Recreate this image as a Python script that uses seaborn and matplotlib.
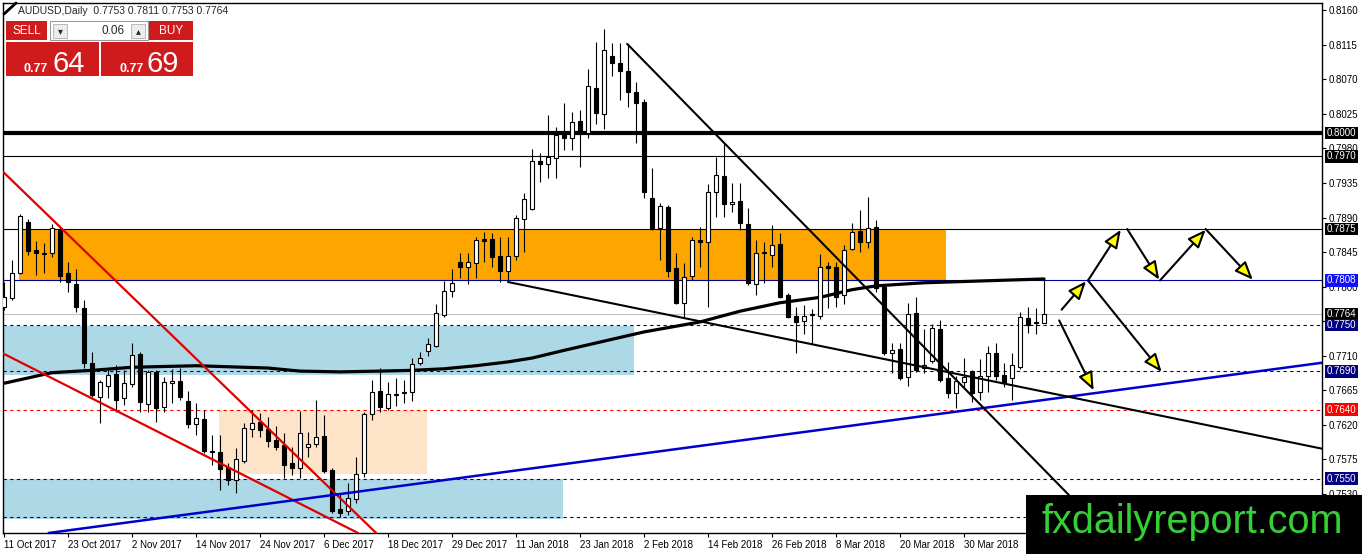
import numpy as np
import pandas as pd
import matplotlib
matplotlib.use("Agg")
import matplotlib.pyplot as plt
import matplotlib.transforms as mtransforms
from matplotlib.patches import Rectangle
import seaborn as sns

sns.set_style("white")
plt.rcParams["font.family"] = ["Liberation Sans", "DejaVu Sans"]

# AUDUSD daily candles, bar 0 = 11 Oct 2017
opens = [.7773, .7785, .7818, .7884, .7848, .7844, .7844, .7875, .7818, .7803,
         .7772, .7700, .7656, .7671, .7686, .7655, .7673, .7712, .7647, .7689,
         .7643, .7674, .7677, .7651, .7621, .7628, .7585, .7585, .7565, .7548,
         .7573, .7615, .7624, .7615, .7600, .7594, .7570, .7564, .7591, .7595,
         .7605, .7561, .7510, .7508, .7523, .7557, .7634, .7664, .7642, .7659,
         .7661, .7663, .7700, .7716, .7723, .7763, .7794, .7832, .7826, .7831,
         .7862, .7862, .7840, .7820, .7840, .7888, .7901, .7964, .7960, .7967,
         .7997, .7993, .8016, .8000, .8059, .8025, .8100, .8091, .8081, .8053,
         .8040, .7915, .7876, .7904, .7824, .7779, .7814, .7861, .7858, .7923,
         .7944, .7908, .7911, .7882, .7803, .7845, .7841, .7855, .7789, .7762,
         .7755, .7763, .7762, .7827, .7826, .7789, .7849, .7872, .7858, .7878,
         .7800, .7713, .7719, .7682, .7766, .7694, .7703, .7745, .7681, .7661,
         .7676, .7690, .7663, .7684, .7713, .7685, .7681, .7695, .7759, .7754,
         .7753]
highs = [.7806, .7835, .7895, .7888, .7859, .7857, .7882, .7877, .7832, .7823,
         .7783, .7715, .7678, .7694, .7698, .7691, .7727, .7715, .7691, .7691,
         .7682, .7693, .7694, .7664, .7648, .7639, .7607, .7607, .7570, .7590,
         .7622, .7639, .7635, .7630, .7618, .7609, .7591, .7638, .7611, .7652,
         .7633, .7564, .7531, .7544, .7578, .7637, .7678, .7694, .7676, .7681,
         .7678, .7707, .7715, .7733, .7777, .7807, .7823, .7844, .7844, .7865,
         .7871, .7870, .7865, .7865, .7893, .7922, .7979, .7974, .8023, .8008,
         .8039, .8027, .8030, .8083, .8118, .8135, .8117, .8117, .8116, .8066,
         .8044, .7954, .7909, .7906, .7844, .7831, .7865, .7878, .7934, .7969,
         .7987, .7935, .7935, .7902, .7861, .7858, .7880, .7870, .7792, .7773,
         .7776, .7771, .7842, .7832, .7832, .7854, .7883, .7900, .7917, .7887,
         .7801, .7727, .7727, .7779, .7786, .7745, .7751, .7756, .7702, .7684,
         .7707, .7691, .7706, .7723, .7727, .7700, .7713, .7767, .7773, .7772,
         .7811]
lows = [.7770, .7783, .7816, .7841, .7815, .7818, .7839, .7806, .7793, .7767,
        .7694, .7656, .7622, .7655, .7637, .7646, .7669, .7637, .7637, .7624,
        .7637, .7648, .7652, .7616, .7607, .7583, .7568, .7535, .7542, .7531,
        .7570, .7604, .7604, .7591, .7587, .7551, .7555, .7551, .7578, .7591,
        .7557, .7505, .7500, .7503, .7518, .7552, .7626, .7637, .7639, .7645,
        .7648, .7651, .7698, .7710, .7721, .7760, .7786, .7811, .7803, .7811,
        .7832, .7826, .7806, .7806, .7835, .7845, .7900, .7936, .7941, .7941,
        .7978, .7978, .7956, .7993, .8012, .8005, .8074, .8043, .8034, .7987,
        .7915, .7874, .7835, .7812, .7777, .7760, .7809, .7826, .7773, .7891,
        .7891, .7897, .7874, .7802, .7789, .7805, .7826, .7785, .7759, .7713,
        .7738, .7725, .7758, .7772, .7773, .7777, .7848, .7845, .7850, .7793,
        .7711, .7688, .7678, .7671, .7689, .7688, .7700, .7676, .7655, .7642,
        .7669, .7650, .7652, .7663, .7678, .7669, .7652, .7693, .7740, .7738,
        .7753]
closes = [.7786, .7818, .7892, .7846, .7844, .7842, .7876, .7814, .7806, .7773,
          .7700, .7659, .7676, .7685, .7652, .7674, .7711, .7650, .7689, .7642,
          .7676, .7677, .7656, .7621, .7629, .7586, .7586, .7562, .7548, .7575,
          .7616, .7622, .7613, .7599, .7591, .7568, .7564, .7609, .7595, .7604,
          .7560, .7508, .7505, .7525, .7556, .7634, .7663, .7643, .7660, .7660,
          .7663, .7699, .7707, .7725, .7766, .7794, .7805, .7826, .7832, .7861,
          .7859, .7839, .7820, .7840, .7889, .7914, .7964, .7960, .7969, .7997,
          .7993, .8014, .8000, .8061, .8026, .8108, .8091, .8081, .8053, .8039,
          .7923, .7876, .7905, .7820, .7779, .7812, .7861, .7858, .7923, .7945,
          .7908, .7910, .7883, .7805, .7844, .7844, .7854, .7786, .7760, .7754,
          .7762, .7764, .7826, .7824, .7786, .7848, .7871, .7858, .7876, .7798,
          .7713, .7717, .7681, .7764, .7691, .7698, .7746, .7678, .7661, .7677,
          .7682, .7661, .7684, .7713, .7684, .7676, .7698, .7760, .7750, .7753,
          .7764]

# thick moving average, read at a few bars
ma_bar = [-0.5, 6, 11, 16, 24, 33, 37, 42, 47, 51, 55, 59, 63, 66, 70, 75, 80,
          87, 92, 97, 102, 106, 109, 115, 121, 130]
ma_val = [.7673, .7688, .7691, .7695, .7697, .7694, .7690, .7689, .7690, .7691,
          .7693, .7697, .7702, .7707, .7717, .7729, .7741, .7754, .7768, .7779,
          .7786, .7796, .7801, .7805, .7807, .7810]

# x-axis date labels
date_bars = [0, 8, 16, 24, 32, 40, 48, 56, 64, 72, 80, 88, 96, 104, 112, 120]
date_labels = ["11 Oct 2017", "23 Oct 2017", "2 Nov 2017", "14 Nov 2017",
               "24 Nov 2017", "6 Dec 2017", "18 Dec 2017", "29 Dec 2017",
               "11 Jan 2018", "23 Jan 2018", "2 Feb 2018", "14 Feb 2018",
               "26 Feb 2018", "8 Mar 2018", "20 Mar 2018", "30 Mar 2018"]
price_ticks = [0.8160, 0.8115, 0.8070, 0.8025, 0.7980, 0.7935, 0.7890, 0.7845,
               0.7800, 0.7755, 0.7710, 0.7665, 0.7620, 0.7575, 0.7530]

# horizontal levels
levels = [0.8000, 0.7970, 0.7875, 0.7808, 0.7764, 0.7750, 0.7690, 0.7640, 0.7550, 0.7500]
level_colors = ["black", "black", "black", "#0000a0", "#c0c0c0", "#000080",
                "#000080", "#ff0000", "#000080", "#000080"]
level_styles = ["-", "-", "-", "-", "-", "--", "--", "--", "--", "--"]
level_widths = [3.0, 0.8, 0.8, 0.8, 0.8, 0.8, 0.8, 0.8, 0.8, 0.8]
label_boxes = ["black", "black", "black", "#1010ff", "black", "#000080",
               "#000080", "#ff0000", "#000080", "#000080"]

# zones (bar from, bar to, low, high)
zone_x0 = [1.9, -1, -1, 26.9]
zone_x1 = [117.8, 78.75, 69.9, 52.9]
zone_lo = [0.7808, 0.7685, 0.7497, 0.7556]
zone_hi = [0.7875, 0.7749, 0.7550, 0.7640]
zone_colors = ["#ffa500", "#add8e6", "#add8e6", "#fde4c8"]

# trend lines (two anchor points each)
red1 = [(3.5, 0.7913), (33.25, 0.7613)]
red2 = [(-0.5, 0.7715), (32.9, 0.7539)]
blue1 = [(32, 0.7516), (65.75, 0.7563)]
ray1 = [(77.9, 0.8116), (124.9, 0.7616)]
ray2 = [(63, 0.7806), (164.75, 0.7589)]

# projection arrows
arrow_x0 = [132.2, 135.5, 140.4, 144.5, 150.2, 131.9, 135.5]
arrow_y0 = [0.7770, 0.7808, 0.7875, 0.7808, 0.7875, 0.7756, 0.7808]
arrow_x1 = [135.25, 139.6, 144.4, 150.2, 156.1, 136.2, 144.7]
arrow_y1 = [0.7807, 0.7874, 0.7809, 0.7874, 0.7809, 0.7665, 0.7689]

df = pd.DataFrame({"open": opens, "high": highs, "low": lows, "close": closes})
df["bar"] = np.arange(len(df))
df["up"] = df["close"] > df["open"]

fig = plt.figure(figsize=(13.62, 5.54), dpi=100)
ax = fig.add_axes([3 / 1362, 21 / 554, 1319 / 1362, 530 / 554])

for x0, x1, lo, hi, c in zip(zone_x0, zone_x1, zone_lo, zone_hi, zone_colors):
    ax.add_patch(Rectangle((x0, lo), x1 - x0, hi - lo, facecolor=c, edgecolor="none", zorder=0.5))

for lv, c, ls, lw in zip(levels, level_colors, level_styles, level_widths):
    dash = (0, (3, 3)) if ls == "--" else "-"
    ax.axhline(lv, color=c, linestyle=dash, linewidth=lw, zorder=1)

sns.lineplot(x=ma_bar, y=ma_val, color="black", linewidth=2.3, ax=ax, zorder=2)

ax.vlines(df["bar"], df["low"], df["high"], color="black", linewidth=0.8, zorder=3)
ax.bar(df["bar"], df["close"] - df["open"], bottom=df["open"], width=0.62,
       color=np.where(df["up"], "white", "black"), edgecolor="black", linewidth=0.8, zorder=4)

ax.axline(red1[0], red1[1], color="#e00000", linewidth=1.6, zorder=5)
ax.axline(red2[0], red2[1], color="#e00000", linewidth=1.6, zorder=5)
ax.axline(blue1[0], blue1[1], color="#0000cc", linewidth=1.8, zorder=5)
for (xa, ya), (xb, yb) in (ray1, ray2):
    slope = (yb - ya) / (xb - xa)
    ax.plot([xa, 170], [ya, ya + slope * (170 - xa)], color="black", linewidth=1.5, zorder=5)

for x0, y0, x1, y1 in zip(arrow_x0, arrow_y0, arrow_x1, arrow_y1):
    ax.annotate("", xy=(x1, y1), xytext=(x0, y0), zorder=6,
                arrowprops=dict(arrowstyle="-|>,head_length=1.1,head_width=0.45",
                                fc="yellow", ec="black", lw=1.5, shrinkA=0, shrinkB=0))

ax.set_xlim(-0.125, 164.75)
ax.set_ylim(0.74792, 0.81693)
ax.set_xlabel("")
ax.set_ylabel("")
ax.yaxis.tick_right()
ax.set_yticks(price_ticks)
ax.set_yticklabels([f"{v:.4f}" for v in price_ticks])
ax.set_xticks(date_bars)
ax.set_xticklabels(date_labels, ha="left")
ax.tick_params(axis="y", left=False, labelleft=False, right=True, labelright=True,
               direction="out", length=3, width=0.8, pad=2, labelsize=7, colors="black")
ax.tick_params(axis="x", bottom=True, direction="out", length=3, width=0.8, pad=2,
               labelsize=7, colors="black")
for s in ax.spines.values():
    s.set_color("black")
    s.set_linewidth(1)

trans = mtransforms.blended_transform_factory(ax.transAxes, ax.transData)
for lv, bc in zip(levels, label_boxes):
    ax.text(1.0035, lv, f"{lv:.4f}", transform=trans, color="white", fontsize=7,
            ha="left", va="center", zorder=10, clip_on=False,
            bbox=dict(boxstyle="square,pad=0.15", facecolor=bc, edgecolor="none"))

# overlay in pixel coordinates: trade panel, header, watermark
ov = fig.add_axes([0, 0, 1, 1], zorder=10)
ov.set_xlim(0, 1362)
ov.set_ylim(554, 0)
ov.axis("off")
ov.patch.set_alpha(0)

red = "#cf1b1b"
def box(x, y, w, h, fc, ec="none", lw=0):
    ov.add_patch(Rectangle((x, y), w, h, facecolor=fc, edgecolor=ec, linewidth=lw))

ov.plot([4, 16], [14, 3], color="black", linewidth=2)
ov.text(18, 11, "AUDUSD,Daily  0.7753 0.7811 0.7753 0.7764", fontsize=7.5, va="center", ha="left")

box(6, 21, 41, 19, red)
box(50, 21, 98, 19, "white", "#9a9a9a", 0.8)
box(53, 24, 14, 14, "#ececec", "#b0b0b0", 0.6)
box(131, 24, 14, 14, "#ececec", "#b0b0b0", 0.6)
box(149, 21, 44, 19, red)
box(6, 42, 93, 34, red)
box(101, 42, 92, 34, red)
ov.text(27, 31, "SELL", color="white", fontsize=8.5, ha="center", va="center")
ov.text(171, 31, "BUY", color="white", fontsize=8.5, ha="center", va="center")
ov.text(60, 31, "▾", fontsize=7, ha="center", va="center", family=["DejaVu Sans"])
ov.text(138, 31, "▴", fontsize=7, ha="center", va="center", family=["DejaVu Sans"])
ov.text(125, 31, "0.06", fontsize=8.5, ha="right", va="center")
ov.text(24, 72, "0.77", color="white", fontsize=9, fontweight="bold", va="baseline")
ov.text(53, 72, "64", color="white", fontsize=21, va="baseline")
ov.text(119, 72, "0.77", color="white", fontsize=9, fontweight="bold", va="baseline")
ov.text(147, 72, "69", color="white", fontsize=21, va="baseline")

box(1026, 495, 336, 59, "black")
ov.text(1042, 533, "fxdailyreport.com", color="#35d035", fontsize=28.5, va="baseline", ha="left")

fig.savefig("out.png", dpi=100, facecolor="white")
